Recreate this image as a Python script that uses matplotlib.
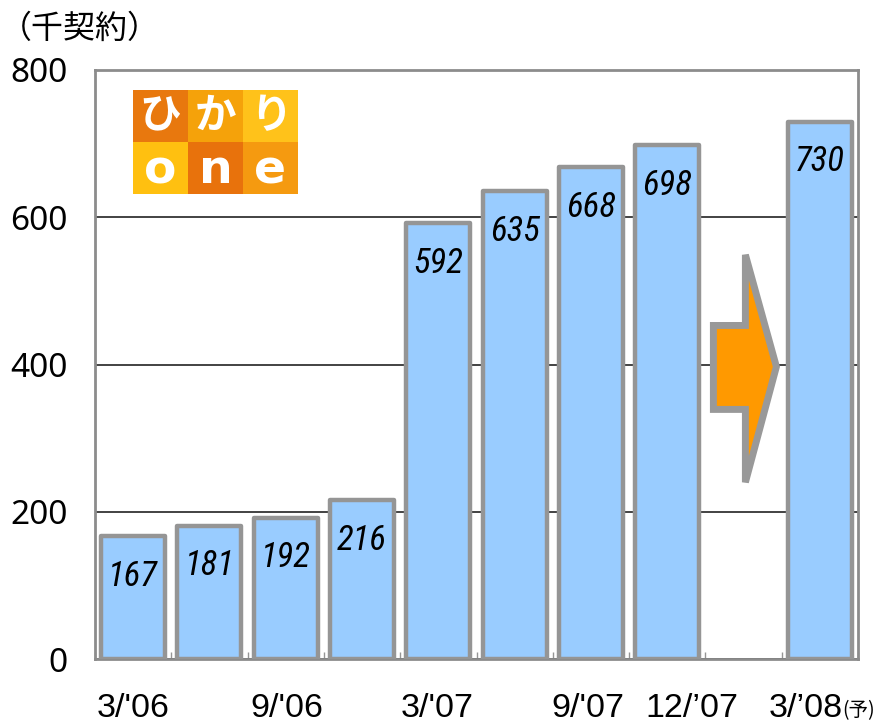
import matplotlib
matplotlib.use("Agg")
import matplotlib.pyplot as plt
from matplotlib.patches import Rectangle, Polygon
from matplotlib import font_manager
import numpy as np

# ---- data ----
categories = ["3/'06", "6/'06", "9/'06", "12/'06", "3/'07", "6/'07", "9/'07", "12/’07", "", "3/’08"]
values = [167, 181, 192, 216, 592, 635, 668, 698, None, 730]
shown_ticks = ["3/'06", "9/'06", "3/'07", "9/'07", "12/’07", "3/’08"]
y_ticks = [0, 200, 400, 600, 800]
unit_label = "（千契約）"
forecast_mark = "(予)"

# ---- pick a narrow font for the value labels if one is installed ----
flist = font_manager.fontManager.ttflist
names = {f.name for f in flist}
narrow_fam, narrow_stretch = "DejaVu Sans", "condensed"
for cand in ["Liberation Sans Narrow", "Roboto Condensed", "Open Sans Condensed", "Arial Narrow"]:
    if cand in names:
        narrow_fam, narrow_stretch = cand, "normal"
        break

cjk = "Noto Sans CJK JP"
tick_font = ["Liberation Sans", "DejaVu Sans"]

fig = plt.figure(figsize=(8.8, 7.25), dpi=100)
ax = fig.add_axes([95/880, 66/725, 763/880, 589/725])

bar_x = [i for i, v in enumerate(values) if v is not None]
bar_v = [v for v in values if v is not None]

ax.set_axisbelow(True)
ax.bar(bar_x, bar_v, width=0.84, color="#99CCFF", edgecolor="#959595",
       linewidth=3.2, joinstyle="round", zorder=3)

for xi, v in zip(bar_x, bar_v):
    ax.annotate(str(v), xy=(xi, v), xytext=(0, -40), textcoords="offset pixels",
                ha="center", va="center", fontsize=25, style="italic", fontweight="normal",
                family=[narrow_fam, "DejaVu Sans"], fontstretch=narrow_stretch,
                color="black", zorder=5)

ax.set_xlim(-0.5, len(categories) - 0.5)
ax.set_ylim(0, 800)
ax.set_yticks(y_ticks)
ax.set_yticklabels([str(t) for t in y_ticks], fontsize=24, family=["Noto Sans", "DejaVu Sans"])
ax.tick_params(axis="y", length=0, pad=19.5)

# category labels under the axis (library data coords for x, small per-label nudges)
label_nudge = {"3/'06": 0, "9/'06": 1, "3/'07": -1, "9/'07": -3, "12/’07": 25, "3/’08": -14}
ax.set_xticks([])
for lab in shown_ticks:
    i = categories.index(lab)
    ax.annotate(lab, xy=(i, 0), xycoords=("data", "axes fraction"),
                xytext=(label_nudge[lab], -58), textcoords="offset pixels",
                ha="center", va="baseline", fontsize=24.5, family=tick_font,
                annotation_clip=False)
last = len(categories) - 1
ax.annotate(forecast_mark, xy=(last, 0), xycoords=("data", "axes fraction"),
            xytext=(22, -57), textcoords="offset pixels", ha="left", va="baseline",
            fontsize=14, family=[cjk, "DejaVu Sans"], annotation_clip=False)

ax.set_xticks(np.arange(-0.5, len(categories)), minor=True)
ax.tick_params(axis="x", which="minor", direction="in", length=5, width=1, color="#959595")

ax.yaxis.grid(True, color="#222222", linewidth=1.2)
for s in ax.spines.values():
    s.set_color("#8c8c8c")
    s.set_linewidth(2)

fig.text(0/880, 1 - 29/725, unit_label, fontsize=23, family=[cjk, "DejaVu Sans"],
         ha="left", va="center")

# ---- arrow in the empty slot ----
gap = values.index(None)
px = 76.3
def dx(p):
    return gap - 0.5 + p / px
arrow = Polygon([(dx(8), 453), (dx(40), 453), (dx(40), 549), (dx(71), 397),
                 (dx(40), 240), (dx(40), 339), (dx(8), 339)],
                closed=True, facecolor="#FF9900", edgecolor="#999999", linewidth=5,
                joinstyle="miter", zorder=4)
ax.add_patch(arrow)

# ---- logo ----
lx, ly, cw, ch = 133/880, 1 - 194/725, 55/880, 52/725
cols = [["#E8780E", "#F5A20A", "#FFC21A"], ["#FFC010", "#E8720C", "#F59A10"]]
top_chars = ["ひ", "か", "り"]
bot_chars = ["o", "n", "e"]
for r in range(2):
    for c in range(3):
        x0 = lx + c * cw
        y0 = ly + (1 - r) * ch
        fig.patches.append(Rectangle((x0, y0), cw, ch, transform=fig.transFigure,
                                     facecolor=cols[r][c], edgecolor="none", zorder=10))
        ch_txt = top_chars[c] if r == 0 else bot_chars[c]
        fam = [cjk, "DejaVu Sans"] if r == 0 else ["DejaVu Sans"]
        fig.text(x0 + cw / 2, y0 + ch / 2 - (0.004 if r else 0), ch_txt, color="white",
                 fontsize=34 if r else 30, fontweight="bold", family=fam,
                 ha="center", va="center", zorder=11)

fig.savefig("out.png", dpi=100)
